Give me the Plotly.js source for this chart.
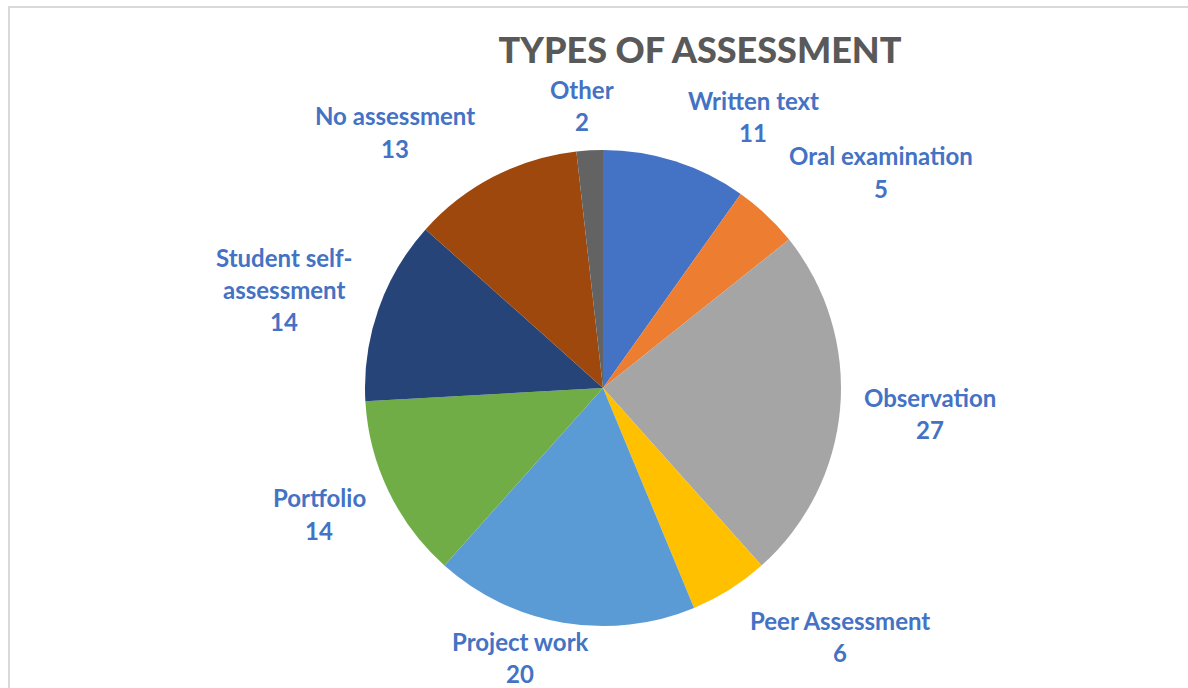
<!DOCTYPE html>
<html>
<head>
<meta charset="utf-8">
<script src="https://cdn.plot.ly/plotly-3.0.1.min.js"></script>
<style>
    html, body { margin: 0; padding: 0; background: white; }
    #frame {
        position: absolute; left: 8px; top: 6px; right: -4px; bottom: -4px;
        border-top: 2px solid #d9d9d9; border-left: 2px solid #d9d9d9;
        pointer-events: none;
    }
    #chart { width: 1188px; height: 688px; }
</style>
</head>
<body>
<div id="chart"></div>
<div id="frame"></div>
<script>
const categories = ['Written text', 'Oral examination', 'Observation', 'Peer Assessment', 'Project work',
    'Portfolio', 'Student self-assessment', 'No assessment', 'Other']
const counts = [11, 5, 27, 6, 20, 14, 14, 13, 2]
const colors = ['#4472C4', '#ED7D31', '#A5A5A5', '#FFC000', '#5B9BD5', '#70AD47', '#264478', '#9E480E', '#636363']

// label text lines and where Excel put them (pixel centres of first line)
const labelLines = [['Written text'], ['Oral examination'], ['Observation'], ['Peer Assessment'], ['Project work'],
    ['Portfolio'], ['Student self-', 'assessment'], ['No assessment'], ['Other']]
const labelPx = [[753, 100], [881, 156], [930, 397], [840, 620], [520, 641],
    [319, 498], [284, 257], [395, 116], [582, 89]]

const W = 1188
const H = 688
const lineStep = 32.5
const labelFont = { family: 'Lato, "Open Sans", sans-serif', size: 24, color: '#4472C4', weight: 700 }

const annotations = []
categories.forEach((c, i) => {
    const lines = labelLines[i].concat([String(counts[i])])
    lines.forEach((t, k) => {
        annotations.push({
            text: '<b>' + t + '</b>',
            x: labelPx[i][0] / W,
            y: 1 - (labelPx[i][1] + k * lineStep) / H,
            xref: 'paper', yref: 'paper',
            xanchor: 'center', yanchor: 'middle',
            showarrow: false,
            font: labelFont,
        })
    })
})

const cx = 603, cy = 388, R = 238

const trace = {
    type: 'pie',
    labels: categories,
    values: counts,
    sort: false,
    direction: 'clockwise',
    rotation: 0,
    textinfo: 'none',
    hoverinfo: 'label+value',
    marker: { colors: colors, line: { width: 0 } },
    domain: {
        x: [(cx - R) / W, (cx + R) / W],
        y: [1 - (cy + R) / H, 1 - (cy - R) / H],
    },
}

const layout = {
    width: W,
    height: H,
    margin: { l: 0, r: 0, t: 0, b: 0 },
    showlegend: false,
    paper_bgcolor: 'white',
    title: {
        text: 'TYPES OF ASSESSMENT',
        x: 700 / W, y: 1 - 50 / H,
        xanchor: 'center', yanchor: 'middle',
        font: { family: 'Lato, "Open Sans", sans-serif', size: 36, color: '#595959', weight: 900 },
    },
    annotations: annotations,
}

Plotly.newPlot('chart', [trace], layout, { displayModeBar: false, staticPlot: true })
</script>
</body>
</html>
